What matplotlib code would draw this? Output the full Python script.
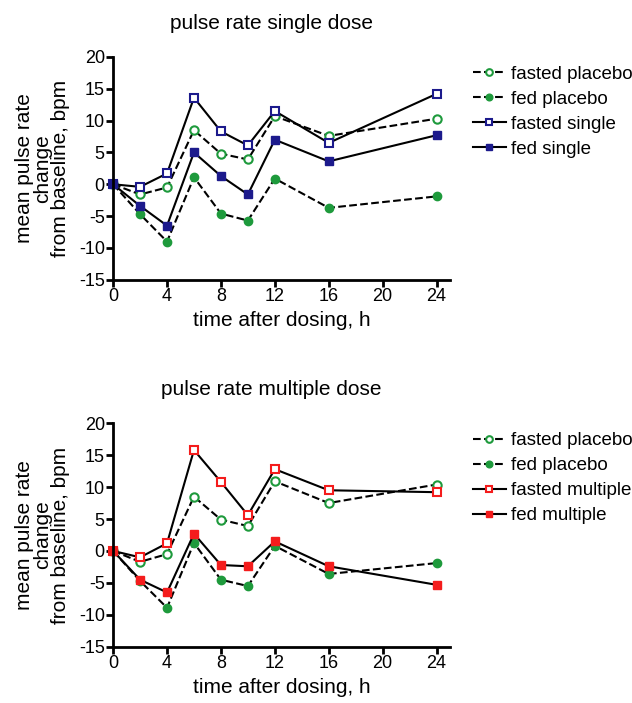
import matplotlib
matplotlib.use('Agg')
import matplotlib.pyplot as plt

plt.rcParams['font.family'] = ['Liberation Sans', 'DejaVu Sans']
plt.rcParams['axes.unicode_minus'] = False

hours = [0, 2, 4, 6, 8, 10, 12, 16, 24]

# single dose panel
fasted_placebo_1 = [0, -1.6, -0.5, 8.5, 4.8, 3.9, 10.7, 7.6, 10.3]
fed_placebo_1 = [0, -4.7, -9.0, 1.1, -4.6, -5.7, 0.9, -3.7, -1.9]
fasted_single = [0, -0.4, 1.7, 13.6, 8.3, 6.1, 11.5, 6.5, 14.2]
fed_single = [0, -3.4, -6.5, 5.0, 1.3, -1.6, 7.0, 3.6, 7.7]

# multiple dose panel
fasted_placebo_2 = [0, -1.7, -0.5, 8.5, 4.9, 3.9, 10.9, 7.5, 10.4]
fed_placebo_2 = [0, -4.7, -8.9, 1.25, -4.5, -5.5, 0.8, -3.6, -1.9]
fasted_multiple = [0, -1.0, 1.2, 15.8, 10.8, 5.6, 12.8, 9.5, 9.2]
fed_multiple = [0, -4.5, -6.5, 2.7, -2.2, -2.4, 1.5, -2.4, -5.3]

xticks = [0, 4, 8, 12, 16, 20, 24]
yticks = [-15, -10, -5, 0, 5, 10, 15, 20]

green = '#1e9a3c'
navy = '#1c1a8c'
red = '#f41c1c'


def draw_panel(ax, title, fp, fdp, fa, fda, label_a, label_b, col):
    ax.plot(hours, fp, '--', color='black', lw=1.5, marker='o', ms=6,
            mfc='white', mec=green, mew=1.5, label='fasted placebo')
    ax.plot(hours, fdp, '--', color='black', lw=1.5, marker='o', ms=6,
            mfc=green, mec=green, label='fed placebo')
    ax.plot(hours, fa, '-', color='black', lw=1.5, marker='s', ms=6.2,
            mfc='white', mec=col, mew=1.5, label=label_a)
    ax.plot(hours, fda, '-', color='black', lw=1.5, marker='s', ms=6.2,
            mfc=col, mec=col, label=label_b)
    ax.set_xlim(0, 25)
    ax.set_ylim(-15, 20)
    ax.set_xticks(xticks)
    ax.set_yticks(yticks)
    ax.spines['top'].set_visible(False)
    ax.spines['right'].set_visible(False)
    for s in ['left', 'bottom']:
        ax.spines[s].set_linewidth(2)
    ax.tick_params(width=2, length=5, labelsize=13, pad=1)
    ax.set_xlabel('time after dosing, h', fontsize=15, labelpad=4)
    ax.set_ylabel('mean pulse rate\nchange\nfrom baseline, bpm', fontsize=15,
                  linespacing=0.95, labelpad=6)
    ax.set_title(title, fontsize=15, pad=20, x=0.47)
    ax.legend(loc='upper left', bbox_to_anchor=(1.018, 1.036), frameon=False,
              fontsize=13.5, handlelength=1.75, handletextpad=0.27,
              labelspacing=0.42, borderaxespad=0.5, markerscale=0.8)
    for line in ax.lines:
        line.set_clip_on(False)


fig = plt.figure(figsize=(6.32, 7.03), dpi=100)
ax1 = fig.add_axes([0.179, 0.602, 0.533, 0.317])
ax2 = fig.add_axes([0.179, 0.080, 0.533, 0.318])

draw_panel(ax1, 'pulse rate single dose', fasted_placebo_1, fed_placebo_1,
           fasted_single, fed_single, 'fasted single', 'fed single', navy)
draw_panel(ax2, 'pulse rate multiple dose', fasted_placebo_2, fed_placebo_2,
           fasted_multiple, fed_multiple, 'fasted multiple', 'fed multiple', red)

fig.savefig('out.png', dpi=100)
